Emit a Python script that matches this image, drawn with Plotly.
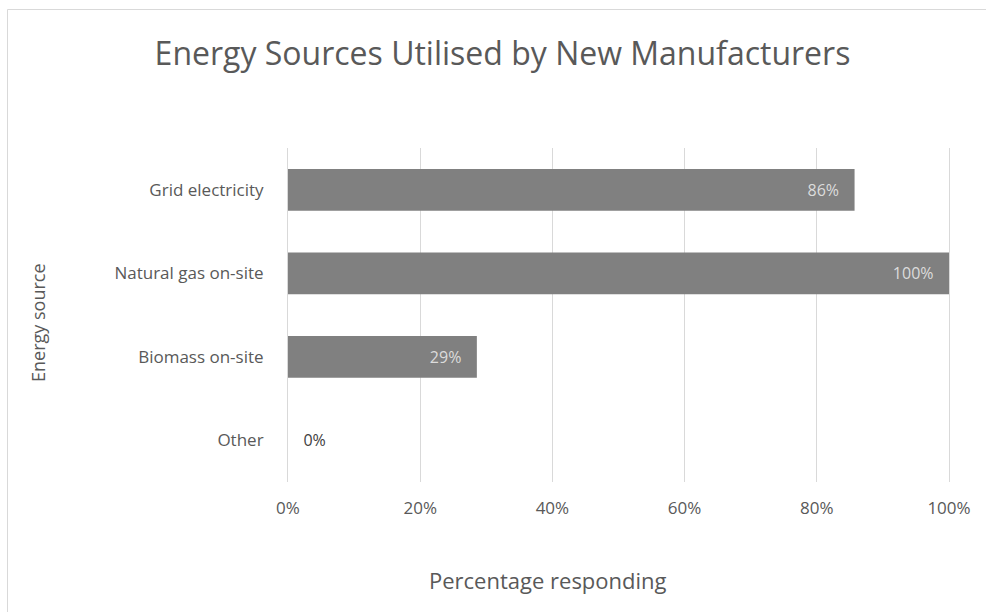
import plotly.graph_objects as go

categories = ["Grid electricity", "Natural gas on-site", "Biomass on-site", "Other"]
values = [6/7, 1.0, 2/7, 0.0]
labels = ["86%", "100%", "29%", "0%"]
x_ticks = [0, 0.2, 0.4, 0.6, 0.8, 1.0]
x_ticktext = ["0%", "20%", "40%", "60%", "80%", "100%"]

FONT = "Open Sans"
TXT = "#595959"
NB = "\u00a0"

templates = ["%{text}" + NB * 3 if v > 0 else NB * 3 + "%{text}" for v in values]
positions = ["inside" if v > 0 else "outside" for v in values]

fig = go.Figure(go.Bar(
    y=categories, x=values, orientation="h",
    marker=dict(color="#808080", line=dict(width=0)),
    width=0.5,
    text=labels,
    texttemplate=templates,
    textposition=positions,
    insidetextanchor="end",
    textfont=dict(family=FONT, size=16),
    insidetextfont=dict(family=FONT, size=16, color="#dcdcdc"),
    outsidetextfont=dict(family=FONT, size=16, color="#404040"),
    cliponaxis=False,
    hoverinfo="skip",
))

W, H = 986, 612
L, R, T, B = 288, 37, 148, 130
pw, ph = W - L - R, H - T - B

def px_x(x):
    return (x - L) / pw

def px_y(y):
    return (H - B - y) / ph

fig.update_layout(
    width=W, height=H,
    margin=dict(l=L, r=R, t=T, b=B, pad=0),
    paper_bgcolor="white", plot_bgcolor="white",
    showlegend=False,
    uniformtext=dict(mode=False),
    font=dict(family=FONT, color=TXT),
    title=dict(text="Energy Sources Utilised by New Manufacturers",
               font=dict(family=FONT, size=32, color=TXT),
               x=502.5 / W, xanchor="center", xref="container",
               y=1 - 54 / H, yanchor="middle", yref="container"),
    xaxis=dict(range=[0, 1], tickvals=x_ticks, ticktext=x_ticktext,
               showgrid=True, gridcolor="#d9d9d9", gridwidth=1,
               zeroline=False, showline=False, ticks="",
               tickfont=dict(family=FONT, size=17, color=TXT),
               ticklabelstandoff=14, fixedrange=True),
    yaxis=dict(autorange="reversed", showgrid=False, zeroline=False,
               showline=True, mirror=True, linecolor="#d9d9d9", linewidth=1,
               ticks="",
               tickfont=dict(family=FONT, size=17, color=TXT),
               ticklabelstandoff=20, fixedrange=True),
    shapes=[dict(type="rect", xref="paper", yref="paper",
                 x0=px_x(7.5), x1=px_x(1000), y0=px_y(620), y1=px_y(9.5),
                 line=dict(color="#d9d9d9", width=1), fillcolor="rgba(0,0,0,0)",
                 layer="below")],
    annotations=[
        dict(text="Percentage responding", xref="paper", yref="paper",
             x=px_x(548), y=px_y(580), xanchor="center", yanchor="middle",
             showarrow=False, font=dict(family=FONT, size=22, color=TXT)),
        dict(text="Energy source", xref="paper", yref="paper",
             x=px_x(38), y=px_y(323), xanchor="center", yanchor="middle",
             textangle=-90, showarrow=False,
             font=dict(family=FONT, size=18, color=TXT)),
    ],
)

fig.write_html("out.html")
